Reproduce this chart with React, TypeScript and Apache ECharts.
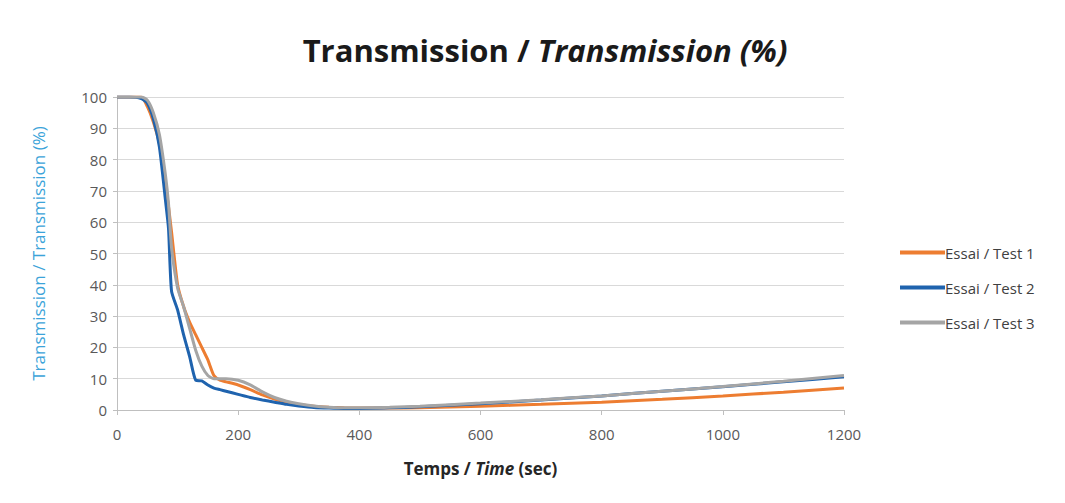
import React, { useEffect, useRef } from "react";
import * as echarts from "echarts";

const times = [0, 20, 40, 50, 60, 70, 80, 85, 90, 100, 110, 120, 130, 140, 150, 160, 170, 180, 200, 220, 240, 260, 280, 300, 325, 350, 375, 400, 450, 500, 600, 700, 800, 900, 1000, 1100, 1200];

const test1 = [100, 100, 100, 97, 92, 85, 72, 65, 57, 40, 33, 28, 24, 20, 16, 11, 9.5, 9, 8, 6.5, 4.8, 3.5, 2.5, 1.8, 1.2, 0.9, 0.7, 0.6, 0.6, 0.7, 1.2, 1.8, 2.5, 3.4, 4.5, 5.7, 7];
const test2 = [100, 100, 99.5, 98, 93, 84, 67, 58, 38, 32, 24, 17, 9.5, 9.3, 8, 7, 6.5, 6, 5, 4, 3.2, 2.5, 1.8, 1.3, 0.8, 0.6, 0.5, 0.5, 0.7, 1, 2, 3.2, 4.5, 6, 7.4, 9, 10.6];
const test3 = [100, 100, 100, 99, 95, 88, 75, 66, 52, 39, 33, 26, 19, 14, 11, 10, 10, 10, 9.5, 8, 5.8, 4, 2.8, 2, 1.3, 0.9, 0.7, 0.7, 0.9, 1.2, 2.2, 3.3, 4.5, 6, 7.5, 9.2, 11];

const seriesNames = ["Essai / Test 1", "Essai / Test 2", "Essai / Test 3"];
const seriesValues = [test1, test2, test3];
const colors = ["#ED7D31", "#1F63AE", "#A5A5A5"];

const FONT = "'Open Sans', Lato, sans-serif";

export default function App() {
  const ref = useRef<HTMLDivElement>(null);
  useEffect(() => {
    if (!ref.current) return;
    const chart = echarts.init(ref.current, undefined, { renderer: "svg" });
    chart.setOption({
      animation: false,
      backgroundColor: "#ffffff",
      title: {
        text: "{a|Transmission / }{b|Transmission (%)}",
        left: 540,
        textAlign: "center",
        top: 29,
        textStyle: {
          rich: {
            a: { fontFamily: FONT, fontWeight: "bold", fontSize: 31, color: "#1a1a1a" },
            b: { fontFamily: FONT, fontWeight: "bold", fontStyle: "italic", fontSize: 31, color: "#1a1a1a" },
          },
        },
      },
      legend: {
        orient: "vertical",
        left: 895,
        top: 240,
        itemGap: 20,
        itemWidth: 45,
        itemHeight: 4,
        icon: "rect",
        textStyle: { fontFamily: FONT, fontSize: 15, color: "#404040", padding: [0, 0, 0, -5] },
        data: seriesNames,
      },
      grid: { left: 117, right: 221, top: 97, bottom: 93, containLabel: false },
      xAxis: {
        type: "value",
        min: 0,
        max: 1200,
        interval: 200,
        name: "{a|Temps / }{b|Time}{a| (sec)}",
        nameLocation: "middle",
        nameGap: 50,
        nameTextStyle: {
          rich: {
            a: { fontFamily: FONT, fontWeight: "bold", fontSize: 17, color: "#262626" },
            b: { fontFamily: FONT, fontWeight: "bold", fontStyle: "italic", fontSize: 17, color: "#262626" },
          },
        },
        axisLine: { show: true, lineStyle: { color: "#bfbfbf", width: 1 } },
        axisTick: { show: true, length: 5, lineStyle: { color: "#bfbfbf" } },
        axisLabel: { fontFamily: FONT, fontSize: 15, color: "#595959", margin: 16, formatter: (v: number) => String(v) },
        splitLine: { show: false },
      },
      yAxis: {
        type: "value",
        min: 0,
        max: 100,
        interval: 10,
        name: "Transmission / Transmission (%)",
        nameLocation: "middle",
        nameGap: 70,
        nameRotate: 90,
        nameTextStyle: { fontFamily: FONT, fontSize: 17, color: "#3BA3D9" },
        axisLine: { show: true, lineStyle: { color: "#bfbfbf", width: 1 } },
        axisTick: { show: true, length: 4, inside: false, lineStyle: { color: "#bfbfbf" } },
        axisLabel: { fontFamily: FONT, fontSize: 15, color: "#595959", margin: 10 },
        splitLine: { show: true, lineStyle: { color: "#d9d9d9", width: 1 } },
      },
      series: seriesNames.map((name, i) => ({
        name,
        type: "line",
        data: times.map((t, j) => [t, seriesValues[i][j]]),
        showSymbol: false,
        symbol: "none",
        smooth: 0.2,
        lineStyle: { color: colors[i], width: 3 },
        itemStyle: { color: colors[i] },
      })),
    });
    return () => chart.dispose();
  }, []);
  return <div ref={ref} style={{ position: "fixed", left: 0, top: 0, width: 1065, height: 503 }} />;
}
